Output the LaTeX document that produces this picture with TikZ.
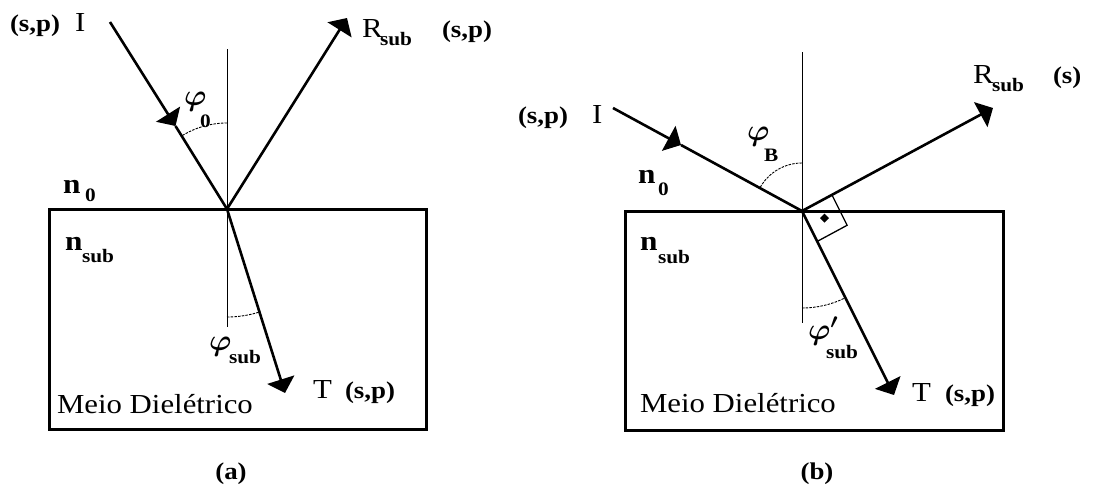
\documentclass[tikz,border=0pt]{standalone}
\usepackage{fix-cm}
\usepackage{fontspec}
\setmainfont[FakeStretch=1.12]{Liberation Serif}
\usetikzlibrary{arrows.meta,calc}
\begin{document}
\begin{tikzpicture}[x=1pt,y=-1pt,
  ray/.style={line width=2.6pt},
  tipend/.style={-{Triangle[length=14pt,width=28pt]}},
  boxframe/.style={draw,line width=3pt,inner sep=0pt,outer sep=0pt,anchor=north west},
  normalline/.style={line width=1pt},
  anglearc/.style={line width=0.9pt,dash pattern=on 2.5pt off 1.2pt},
  txt/.style={inner sep=0pt,outer sep=0pt,anchor=base west,font=\fontsize{27.5}{30}\selectfont},
  bsp/.style={inner sep=0pt,outer sep=0pt,anchor=base west,font=\fontsize{24}{26}\selectfont\bfseries},
  nlab/.style={inner sep=0pt,outer sep=0pt,anchor=base west,font=\fontsize{28}{30}\selectfont\bfseries},
  sublab/.style={inner sep=0pt,outer sep=0pt,anchor=base west,font=\fontsize{19}{20}\selectfont\bfseries},
  philab/.style={inner sep=0pt,outer sep=0pt,anchor=base west,font=\fontsize{30}{34}\selectfont\boldmath},
  caption/.style={inner sep=0pt,outer sep=0pt,anchor=center,font=\fontsize{24}{26}\selectfont\bfseries}
]
\useasboundingbox (0,0) rectangle (1117,488);

% ================= (a) =================
\node[boxframe,minimum width=377pt,minimum height=220pt] (boxa) at (49,209) {};
\coordinate (Oa) at (227,209);
\coordinate (NaT) at (227,49);
\coordinate (NaB) at (227,327);
\coordinate (Ia) at (110,22);
\coordinate (Ma) at (175.5,126);
\coordinate (Ra) at (347,18);
\coordinate (Ta) at (285,393);

\draw[normalline] (NaT) -- (NaB);
\draw[ray,tipend] (Ia) -- (Ma);
\draw[ray] (Ma) -- (Oa);
\draw[ray,tipend] (Oa) -- (Ra);
\draw[ray,tipend] (Oa) -- (Ta);
\draw[anglearc] (227,123) arc[start angle=-90,end angle=-122,radius=86];
\draw[anglearc] (227,317) arc[start angle=90,end angle=72.5,radius=108];

\node[bsp] (spIa) at (10,31) {(s,p)};
\node[txt] (lIa) at (75,31) {I};
\node[txt] (lRa) at (362,37) {R};
\node[sublab] (lRasub) at (380,45) {sub};
\node[bsp] (spRa) at (442,37) {(s,p)};
\node[philab] (phia) at (184,105) {$\varphi$};
\node[sublab] (phiasub) at (200,127) {0};
\node[nlab] (n0a) at (63,193) {n};
\node[sublab] (n0asub) at (85,201) {0};
\node[nlab] (nsa) at (65,250) {n};
\node[sublab] (nsasub) at (82,262) {sub};
\node[philab] (phisa) at (209,350) {$\varphi$};
\node[sublab] (phisasub) at (229,363) {sub};
\node[txt] (lTa) at (313,398) {T};
\node[bsp] (spTa) at (345,398) {(s,p)};
\node[txt] (meioa) at (57,413) {Meio Dielétrico};
\node[caption] (capa) at (231,474) {(a)};

% ================= (b) =================
\node[boxframe,minimum width=378pt,minimum height=219pt] (boxb) at (625,211) {};
\coordinate (Ob) at (802,211);
\coordinate (NbT) at (802,52);
\coordinate (NbB) at (802,323);
\coordinate (Ib) at (613,108);
\coordinate (Mb) at (681,145);
\coordinate (Rb) at (993,108);
\coordinate (Tb) at (894,395);

\draw[normalline] (NbT) -- (NbB);
\draw[ray,tipend] (Ib) -- (Mb);
\draw[ray] (Mb) -- (Ob);
\draw[ray,tipend] (Ob) -- (Rb);
\draw[ray,tipend] (Ob) -- (Tb);
\draw[anglearc] (802,163) arc[start angle=-90,end angle=-151.4,radius=48];
\draw[anglearc] (802,308) arc[start angle=90,end angle=63.5,radius=97];

\coordinate (sqa) at ($(Ob)!34pt!(Rb)$);
\coordinate (sqb) at ($(Ob)!34pt!(Tb)$);
\coordinate (sqc) at ($(sqa)+(sqb)-(Ob)$);
\coordinate (sqm) at ($(Ob)!0.5!(sqc)$);
\draw[line width=1.3pt] (sqa) -- (sqc) -- (sqb);
\fill (sqm) ++(0,-4.5) -- ++(4.5,4.5) -- ++(-4.5,4.5) -- ++(-4.5,-4.5) -- cycle;

\node[bsp] (spIb) at (518,123) {(s,p)};
\node[txt] (lIb) at (592,123) {I};
\node[philab] (phib) at (747,140) {$\varphi$};
\node[sublab] (phibsub) at (764,161) {B};
\node[nlab] (n0b) at (638,183) {n};
\node[sublab] (n0bsub) at (658,195) {0};
\node[txt] (lRb) at (973,83) {R};
\node[sublab] (lRbsub) at (992,91) {sub};
\node[bsp] (spRb) at (1053,83) {(s)};
\node[nlab] (nsb) at (640,250) {n};
\node[sublab] (nsbsub) at (658,263) {sub};
\node[philab] (phisb) at (808,339) {$\varphi'$};
\node[sublab] (phisbsub) at (826,358) {sub};
\node[txt] (lTb) at (912,401) {T};
\node[bsp] (spTb) at (945,401) {(s,p)};
\node[txt] (meiob) at (640,412) {Meio Dielétrico};
\node[caption] (capb) at (817,474) {(b)};
\end{tikzpicture}
\end{document}
